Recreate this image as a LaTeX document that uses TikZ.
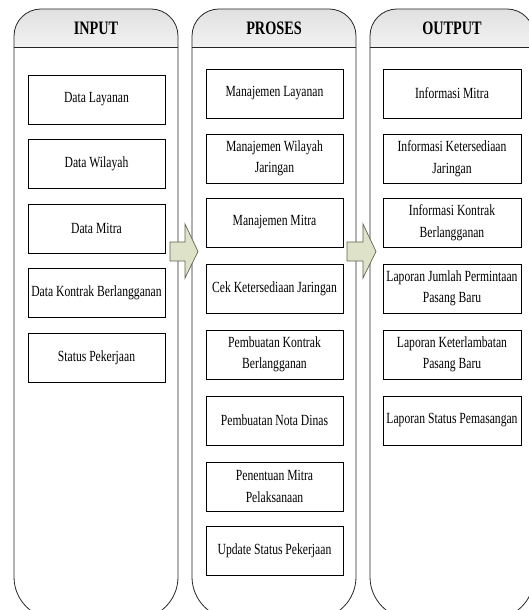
\documentclass[tikz,border=0pt]{standalone}
\usepackage{fontspec}
\setmainfont[FakeStretch=0.75]{Liberation Serif}
\usepackage{tikz}
\definecolor{panah}{RGB}{221,226,200}
\definecolor{garispanah}{RGB}{95,100,80}

\begin{document}
\begin{tikzpicture}[x=1pt,y=1pt,
		Kolom/.style={draw=black!85,line width=0.8pt},
		Kepala/.style={top color=gray!24,bottom color=gray!10},
		Judul/.style={font=\fontsize{19}{21}\selectfont\bfseries},
		Kotak/.style={draw,line width=0.7pt,minimum width=137pt,minimum height=49pt,
			inner sep=1pt,align=center,font=\fontsize{15.5}{21.5}\selectfont},
		Panah/.style={fill=panah,draw=garispanah,line width=0.7pt}]
		\useasboundingbox (0,0) rectangle (529,610);
		\clip (0,0) rectangle (529,610);
		% kolom input
		\shade[Kepala] (14,563) -- (14,574) arc[start angle=180,end angle=90,radius=27pt]
			-- (151,601) arc[start angle=90,end angle=0,radius=27pt] -- (178,563) -- cycle;
		\draw[Kolom] (14,563) -- (14,574) arc[start angle=180,end angle=90,radius=27pt]
			-- (151,601) arc[start angle=90,end angle=0,radius=27pt]
			-- (178,33) arc[start angle=0,end angle=-90,radius=42pt]
			-- (56,-9) arc[start angle=270,end angle=180,radius=42pt] -- cycle;
		\draw[Kolom] (14,563) -- (178,563);
		% kolom proses
		\shade[Kepala] (192,563) -- (192,574) arc[start angle=180,end angle=90,radius=27pt]
			-- (329,601) arc[start angle=90,end angle=0,radius=27pt] -- (356,563) -- cycle;
		\draw[Kolom] (192,563) -- (192,574) arc[start angle=180,end angle=90,radius=27pt]
			-- (329,601) arc[start angle=90,end angle=0,radius=27pt]
			-- (356,33) arc[start angle=0,end angle=-90,radius=42pt]
			-- (234,-9) arc[start angle=270,end angle=180,radius=42pt] -- cycle;
		\draw[Kolom] (192,563) -- (356,563);
		% kolom output
		\shade[Kepala] (370,563) -- (370,574) arc[start angle=180,end angle=90,radius=27pt]
			-- (507,601) arc[start angle=90,end angle=0,radius=27pt] -- (534,563) -- cycle;
		\draw[Kolom] (370,563) -- (370,574) arc[start angle=180,end angle=90,radius=27pt]
			-- (507,601) arc[start angle=90,end angle=0,radius=27pt]
			-- (534,33) arc[start angle=0,end angle=-90,radius=42pt]
			-- (412,-9) arc[start angle=270,end angle=180,radius=42pt] -- cycle;
		\draw[Kolom] (370,563) -- (534,563);
		%\draw[Kolom] (14,0) -- (534,0);
		\node[Judul] (IN) at (96,582) {INPUT};
		\node[Judul] (PR) at (274,582) {PROSES};
		\node[Judul] (OUT) at (452,582) {OUTPUT};
		\node[Kotak] (DL) at (96.5,510.5) {Data Layanan};
		\node[Kotak] (DW) at (96.5,446) {Data Wilayah};
		\node[Kotak] (DM) at (96.5,381.5) {Data Mitra};
		\node[Kotak] (DK) at (96.5,317) {Data Kontrak Berlangganan};
		\node[Kotak] (SP) at (96.5,252.5) {Status Pekerjaan};
		\node[Kotak] (ML) at (274.5,516.5) {Manajemen Layanan};
		\node[Kotak] (MW) at (274.5,451.5) {Manajemen Wilayah\\Jaringan};
		\node[Kotak] (MM) at (274.5,387.5) {Manajemen Mitra};
		\node[Kotak] (CK) at (274.5,321.5) {Cek Ketersediaan Jaringan};
		\node[Kotak] (PK) at (274.5,255.5) {Pembuatan Kontrak\\Berlangganan};
		\node[Kotak] (PN) at (274.5,189.5) {Pembuatan Nota Dinas};
		\node[Kotak] (PM) at (274.5,123.5) {Penentuan Mitra\\Pelaksanaan};
		\node[Kotak] (US) at (274.5,59.5) {Update Status Pekerjaan};
		{
			\tikzset{Kotak/.append style={minimum width=138pt}}
			\node[Kotak] (IM) at (452,516.5) {Informasi Mitra};
			\node[Kotak] (IK) at (452,451.5) {Informasi Ketersediaan\\Jaringan};
			\node[Kotak] (IB) at (452,387.5) {Informasi Kontrak\\Berlangganan};
			\node[Kotak] (LJ) at (452,321.5) {Laporan Jumlah Permintaan\\Pasang Baru};
			\node[Kotak] (LK) at (452,255.5) {Laporan Keterlambatan\\Pasang Baru};
			\node[Kotak] (LS) at (452,189.5) {Laporan Status Pemasangan};
		}
		% panah blok
		\draw[Panah] (170,349) -- (185,349) -- (185,332) -- (198,358.5)
			-- (185,386) -- (185,368) -- (170,368) -- cycle;
		\draw[Panah] (347,349) -- (363,349) -- (363,332) -- (376,358.5)
			-- (363,386) -- (363,368) -- (347,368) -- cycle;
	\end{tikzpicture}
\end{document}
